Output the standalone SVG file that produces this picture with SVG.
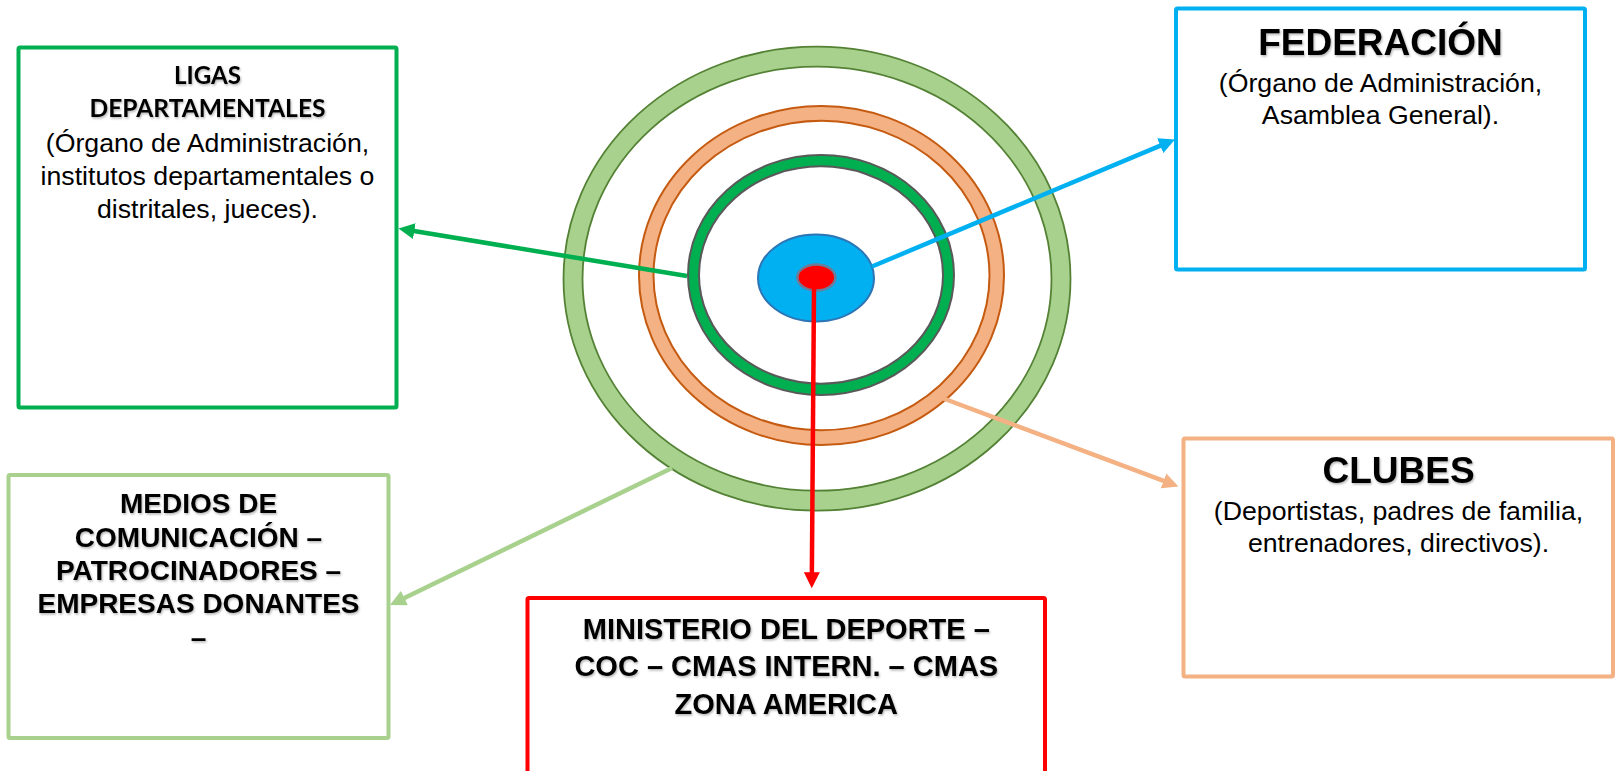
<svg xmlns="http://www.w3.org/2000/svg" width="1616" height="771" viewBox="0 0 1616 771">
<style>
.box{fill:#fff;stroke-width:4;}
.t{font-family:"Liberation Sans",Arial,sans-serif;fill:#000;text-anchor:middle;}
.reg{font-size:26.7px;}
.b{font-weight:bold;filter:url(#sh);}
.cal{font-family:Lato,"Liberation Sans",sans-serif;font-weight:bold;font-size:24.5px;}
.con{fill:none;stroke-width:4.5;}
</style>
<defs>
<filter id="sh" x="-10%" y="-30%" width="120%" height="160%">
<feDropShadow dx="1" dy="1.5" stdDeviation="1.2" flood-color="#000" flood-opacity="0.3"/>
</filter>
<marker id="aG" markerUnits="userSpaceOnUse" markerWidth="16" markerHeight="16" refX="8" refY="8" orient="auto"><path d="M0,0 L16,8 L0,16 Z" fill="#00B050"/></marker>
<marker id="aB" markerUnits="userSpaceOnUse" markerWidth="16" markerHeight="16" refX="8" refY="8" orient="auto"><path d="M0,0 L16,8 L0,16 Z" fill="#00B0F0"/></marker>
<marker id="aL" markerUnits="userSpaceOnUse" markerWidth="16" markerHeight="16" refX="8" refY="8" orient="auto"><path d="M0,0 L16,8 L0,16 Z" fill="#A9D18E"/></marker>
<marker id="aO" markerUnits="userSpaceOnUse" markerWidth="16" markerHeight="16" refX="8" refY="8" orient="auto"><path d="M0,0 L16,8 L0,16 Z" fill="#F4B183"/></marker>
<marker id="aR" markerUnits="userSpaceOnUse" markerWidth="16" markerHeight="16" refX="8" refY="8" orient="auto"><path d="M0,0 L16,8 L0,16 Z" fill="#FF0000"/></marker>
</defs>
<rect width="1616" height="771" fill="#fff"/>

<g id="rings">
<path fill-rule="evenodd" fill="#A9D18E" stroke="#548235" stroke-width="1.8" d="M563.5,278.7 A253.5,232 0 1,0 1070.5,278.7 A253.5,232 0 1,0 563.5,278.7 Z M582.5,278.7 A234.5,212 0 1,0 1051.5,278.7 A234.5,212 0 1,0 582.5,278.7 Z"/>
<path fill-rule="evenodd" fill="#F4B183" stroke="#C55A11" stroke-width="2" d="M639,275.5 A182.5,169.5 0 1,0 1004,275.5 A182.5,169.5 0 1,0 639,275.5 Z M653.5,275.5 A168,154.7 0 1,0 989.5,275.5 A168,154.7 0 1,0 653.5,275.5 Z"/>
<path fill-rule="evenodd" fill="#00B050" stroke="#595959" stroke-width="2" d="M688,275 A133,120 0 1,0 954,275 A133,120 0 1,0 688,275 Z M699,275 A122,108.7 0 1,0 943,275 A122,108.7 0 1,0 699,275 Z"/>
<ellipse cx="816" cy="278" rx="58" ry="43.5" fill="#00B0F0" stroke="#2E75B6" stroke-width="2"/>
</g>

<g id="connectors">
<line class="con" stroke="#00B050" x1="687" y1="276" x2="406.4" y2="229.8" marker-end="url(#aG)"/>
<line class="con" stroke="#00B0F0" x1="872" y1="266.5" x2="1167.6" y2="142.6" marker-end="url(#aB)"/>
<line class="con" stroke="#A9D18E" x1="672" y1="468" x2="397.2" y2="601.5" marker-end="url(#aL)"/>
<line class="con" stroke="#F4B183" x1="943.5" y1="398.5" x2="1171" y2="483.7" marker-end="url(#aO)"/>
</g>

<g id="core">
<ellipse cx="816.3" cy="277.5" rx="19" ry="13" fill="#FF0000" stroke="#6C7C99" stroke-width="2.5"/>
</g>

<g id="connector-red">
<line class="con" stroke="#FF0000" x1="814" y1="288" x2="811.8" y2="580.3" marker-end="url(#aR)"/>
</g>

<g id="ligas">
<rect class="box" stroke="#00B050" x="18.5" y="47.5" width="378" height="360" rx="1.5"/>
<text class="t cal b" x="207.5" y="84" textLength="67" lengthAdjust="spacingAndGlyphs">LIGAS</text>
<text class="t cal b" x="207.5" y="116.7" textLength="236" lengthAdjust="spacingAndGlyphs">DEPARTAMENTALES</text>
<text class="t reg" x="207.5" y="151.5">(Órgano de Administración,</text>
<text class="t reg" x="207.5" y="184.5">institutos departamentales o</text>
<text class="t reg" x="207.5" y="217.5">distritales, jueces).</text>
</g>

<g id="federacion">
<rect class="box" stroke="#00B0F0" x="1176" y="8.5" width="409" height="261" rx="1.5"/>
<text class="t b" x="1380.5" y="55" font-size="37">FEDERACIÓN</text>
<text class="t reg" x="1380.5" y="91.7">(Órgano de Administración,</text>
<text class="t reg" x="1380.5" y="124">Asamblea General).</text>
</g>

<g id="medios">
<rect class="box" stroke="#A9D18E" x="8.5" y="475" width="380" height="263" rx="1.5"/>
<text class="t b" font-size="28" x="198.5" y="513.3">MEDIOS DE</text>
<text class="t b" font-size="28" x="198.5" y="546.6">COMUNICACIÓN –</text>
<text class="t b" font-size="28" x="198.5" y="580">PATROCINADORES –</text>
<text class="t b" font-size="28" x="198.5" y="613.3">EMPRESAS DONANTES</text>
<text class="t b" font-size="28" x="198.5" y="646.6">–</text>
</g>

<g id="ministerio">
<rect class="box" stroke="#FF0000" stroke-width="5" x="527.5" y="598" width="517.5" height="200" rx="1.5"/>
<text class="t b" font-size="29" x="786.3" y="639">MINISTERIO DEL DEPORTE –</text>
<text class="t b" font-size="29" x="786.3" y="676.3">COC – CMAS INTERN. – CMAS</text>
<text class="t b" font-size="29" x="786.3" y="713.6">ZONA AMERICA</text>
</g>

<g id="clubes">
<rect class="box" stroke="#F4B183" x="1183.5" y="438.5" width="429.5" height="238" rx="1.5"/>
<text class="t b" x="1398.5" y="483.3" font-size="37">CLUBES</text>
<text class="t reg" x="1398.5" y="520">(Deportistas, padres de familia,</text>
<text class="t reg" x="1398.5" y="551.7">entrenadores, directivos).</text>
</g>
</svg>
